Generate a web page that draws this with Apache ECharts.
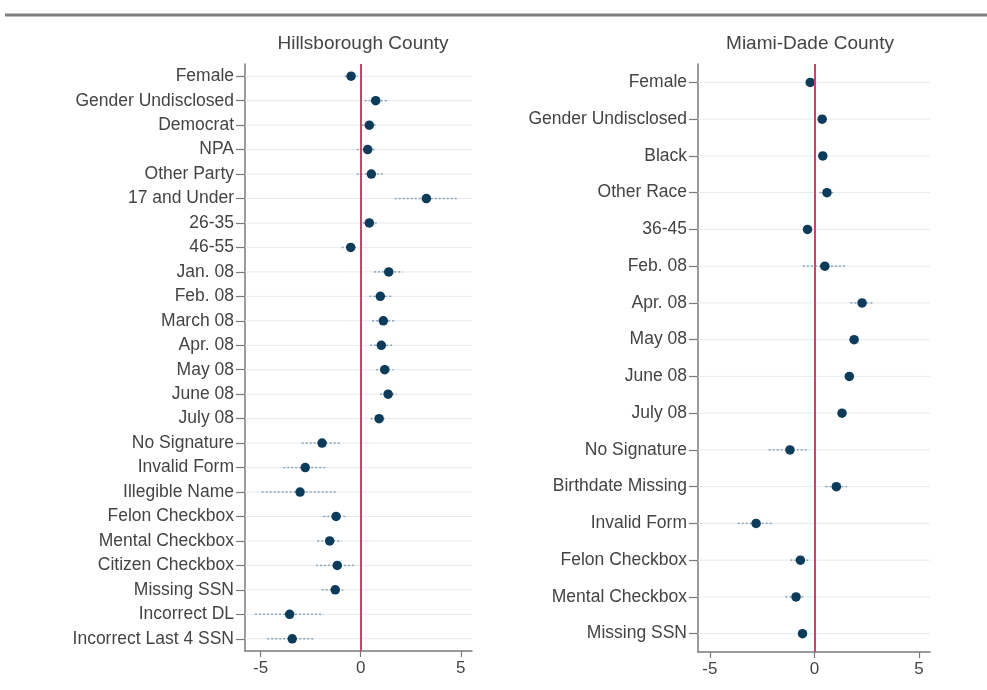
<!DOCTYPE html>
<html>
<head>
<meta charset="utf-8">
<script src="https://cdn.jsdelivr.net/npm/echarts@6/dist/echarts.min.js"></script>
<style>
  html, body { margin: 0; padding: 0; background: #fff; }
  #chart { width: 987px; height: 690px; }
</style>
</head>
<body>
<div id="chart"></div>
<script>
// Hillsborough County: coefficient estimates with confidence bounds
const hillsCategories = [
  'Female', 'Gender Undisclosed', 'Democrat', 'NPA', 'Other Party', '17 and Under',
  '26-35', '46-55', 'Jan. 08', 'Feb. 08', 'March 08', 'Apr. 08', 'May 08', 'June 08',
  'July 08', 'No Signature', 'Invalid Form', 'Illegible Name', 'Felon Checkbox',
  'Mental Checkbox', 'Citizen Checkbox', 'Missing SSN', 'Incorrect DL', 'Incorrect Last 4 SSN'
];
const hillsEstimate = [-0.48, 0.75, 0.43, 0.35, 0.53, 3.28, 0.43, -0.5, 1.4, 0.98, 1.13, 1.03, 1.2, 1.37,
  0.92, -1.93, -2.77, -3.03, -1.23, -1.55, -1.17, -1.27, -3.55, -3.42];
const hillsLower = [-0.8, 0.2, 0.05, -0.2, -0.2, 1.7, 0.1, -0.95, 0.67, 0.43, 0.57, 0.47, 0.77, 0.97,
  0.5, -2.95, -3.87, -4.95, -1.87, -2.17, -2.23, -1.95, -5.28, -4.67];
const hillsUpper = [-0.15, 1.3, 0.8, 0.8, 1.2, 4.8, 0.8, -0.2, 2.1, 1.55, 1.67, 1.6, 1.63, 1.8,
  1.2, -1.03, -1.7, -1.2, -0.7, -0.95, -0.23, -0.87, -1.87, -2.28];

// Miami-Dade County: coefficient estimates with confidence bounds
const miamiCategories = [
  'Female', 'Gender Undisclosed', 'Black', 'Other Race', '36-45', 'Feb. 08', 'Apr. 08',
  'May 08', 'June 08', 'July 08', 'No Signature', 'Birthdate Missing', 'Invalid Form',
  'Felon Checkbox', 'Mental Checkbox', 'Missing SSN'
];
const miamiEstimate = [-0.2, 0.37, 0.4, 0.6, -0.33, 0.5, 2.28, 1.9, 1.67, 1.32, -1.17, 1.05, -2.79,
  -0.67, -0.88, -0.57];
const miamiLower = [-0.3, 0.2, 0.3, 0.25, -0.5, -0.55, 1.72, 1.65, 1.5, 1.15, -2.19, 0.53, -3.67,
  -1.15, -1.39, -0.75];
const miamiUpper = [-0.1, 0.6, 0.5, 0.9, -0.2, 1.53, 2.8, 2.1, 1.85, 1.5, -0.27, 1.56, -1.98,
  -0.27, -0.48, -0.4];

const xTicks = [-5, 0, 5];

const FONT = "'Liberation Sans', Arial, sans-serif";
const TEXT = '#444';
const AXIS = '#7a7a7a';
const DOT = '#0d3b5a';
const CI = '#8aa3b8';
const ZERO = '#c4476a';
const GRIDLINE = '#e5ebf0';

const chart = echarts.init(document.getElementById('chart'), null, { renderer: 'canvas' });

// Light row guide across the plot plus the dotted confidence interval
function ciItem(params, api) {
  const row = api.value(2);
  const a = api.coord([api.value(0), row]);
  const b = api.coord([api.value(1), row]);
  const cs = params.coordSys;
  return {
    type: 'group',
    children: [
      { type: 'line', shape: { x1: cs.x, y1: a[1], x2: cs.x + cs.width, y2: a[1] },
        style: { stroke: GRIDLINE, lineWidth: 1 } },
      { type: 'line', shape: { x1: a[0], y1: a[1], x2: b[0], y2: b[1] },
        style: { stroke: CI, lineWidth: 1.5, lineDash: [2, 2] } }
    ]
  };
}

function xAxisCfg(idx, min, max) {
  return {
    type: 'value', gridIndex: idx, min: min, max: max,
    axisLine: { show: true, onZero: false, lineStyle: { color: AXIS, width: 1.5 } },
    axisTick: { show: true, length: 6, customValues: xTicks, lineStyle: { color: AXIS, width: 1.2 } },
    axisLabel: { customValues: xTicks, fontSize: 17, color: TEXT, fontFamily: FONT, margin: 9 },
    splitLine: { show: false }
  };
}

function yAxisCfg(idx, cats) {
  return {
    type: 'category', gridIndex: idx, data: cats, inverse: true,
    axisLine: { show: true, onZero: false, lineStyle: { color: AXIS, width: 1.5 } },
    axisTick: { show: true, alignWithLabel: true, length: 9, lineStyle: { color: AXIS, width: 1.2 } },
    axisLabel: { fontSize: 17.5, color: TEXT, fontFamily: FONT, margin: 11 },
    splitLine: { show: false }
  };
}

function panelSeries(idx, est, lo, hi) {
  return [
    {
      type: 'custom', xAxisIndex: idx, yAxisIndex: idx, silent: true, z: 1,
      renderItem: ciItem,
      encode: { x: [0, 1], y: 2 },
      data: lo.map((v, i) => [v, hi[i], i])
    },
    {
      type: 'scatter', xAxisIndex: idx, yAxisIndex: idx, z: 3,
      symbolSize: 9.5,
      itemStyle: { color: DOT, opacity: 1 },
      data: est.map((v, i) => [v, i]),
      markLine: {
        silent: true, symbol: 'none', animation: false,
        label: { show: false },
        lineStyle: { color: ZERO, width: 2, type: 'solid' },
        data: [{ xAxis: 0 }]
      }
    }
  ];
}

chart.setOption({
  animation: false,
  backgroundColor: '#fff',
  textStyle: { fontFamily: FONT },
  grid: [
    { left: 245, top: 64, width: 227, height: 587 },
    { left: 698, top: 64, width: 232, height: 588 }
  ],
  xAxis: [xAxisCfg(0, -5.78, 5.56), xAxisCfg(1, -5.57, 5.53)],
  yAxis: [yAxisCfg(0, hillsCategories), yAxisCfg(1, miamiCategories)],
  series: [
    ...panelSeries(0, hillsEstimate, hillsLower, hillsUpper),
    ...panelSeries(1, miamiEstimate, miamiLower, miamiUpper)
  ],
  graphic: [
    { type: 'line', shape: { x1: 5, y1: 15, x2: 987, y2: 15 },
      style: { stroke: '#808080', lineWidth: 3 } },
    { type: 'text', x: 363, y: 44,
      style: { text: 'Hillsborough County', fontSize: 19, fontFamily: FONT, fill: TEXT,
               textAlign: 'center', textVerticalAlign: 'middle' } },
    { type: 'text', x: 810, y: 44,
      style: { text: 'Miami-Dade County', fontSize: 19, fontFamily: FONT, fill: TEXT,
               textAlign: 'center', textVerticalAlign: 'middle' } }
  ]
});
</script>
</body>
</html>
